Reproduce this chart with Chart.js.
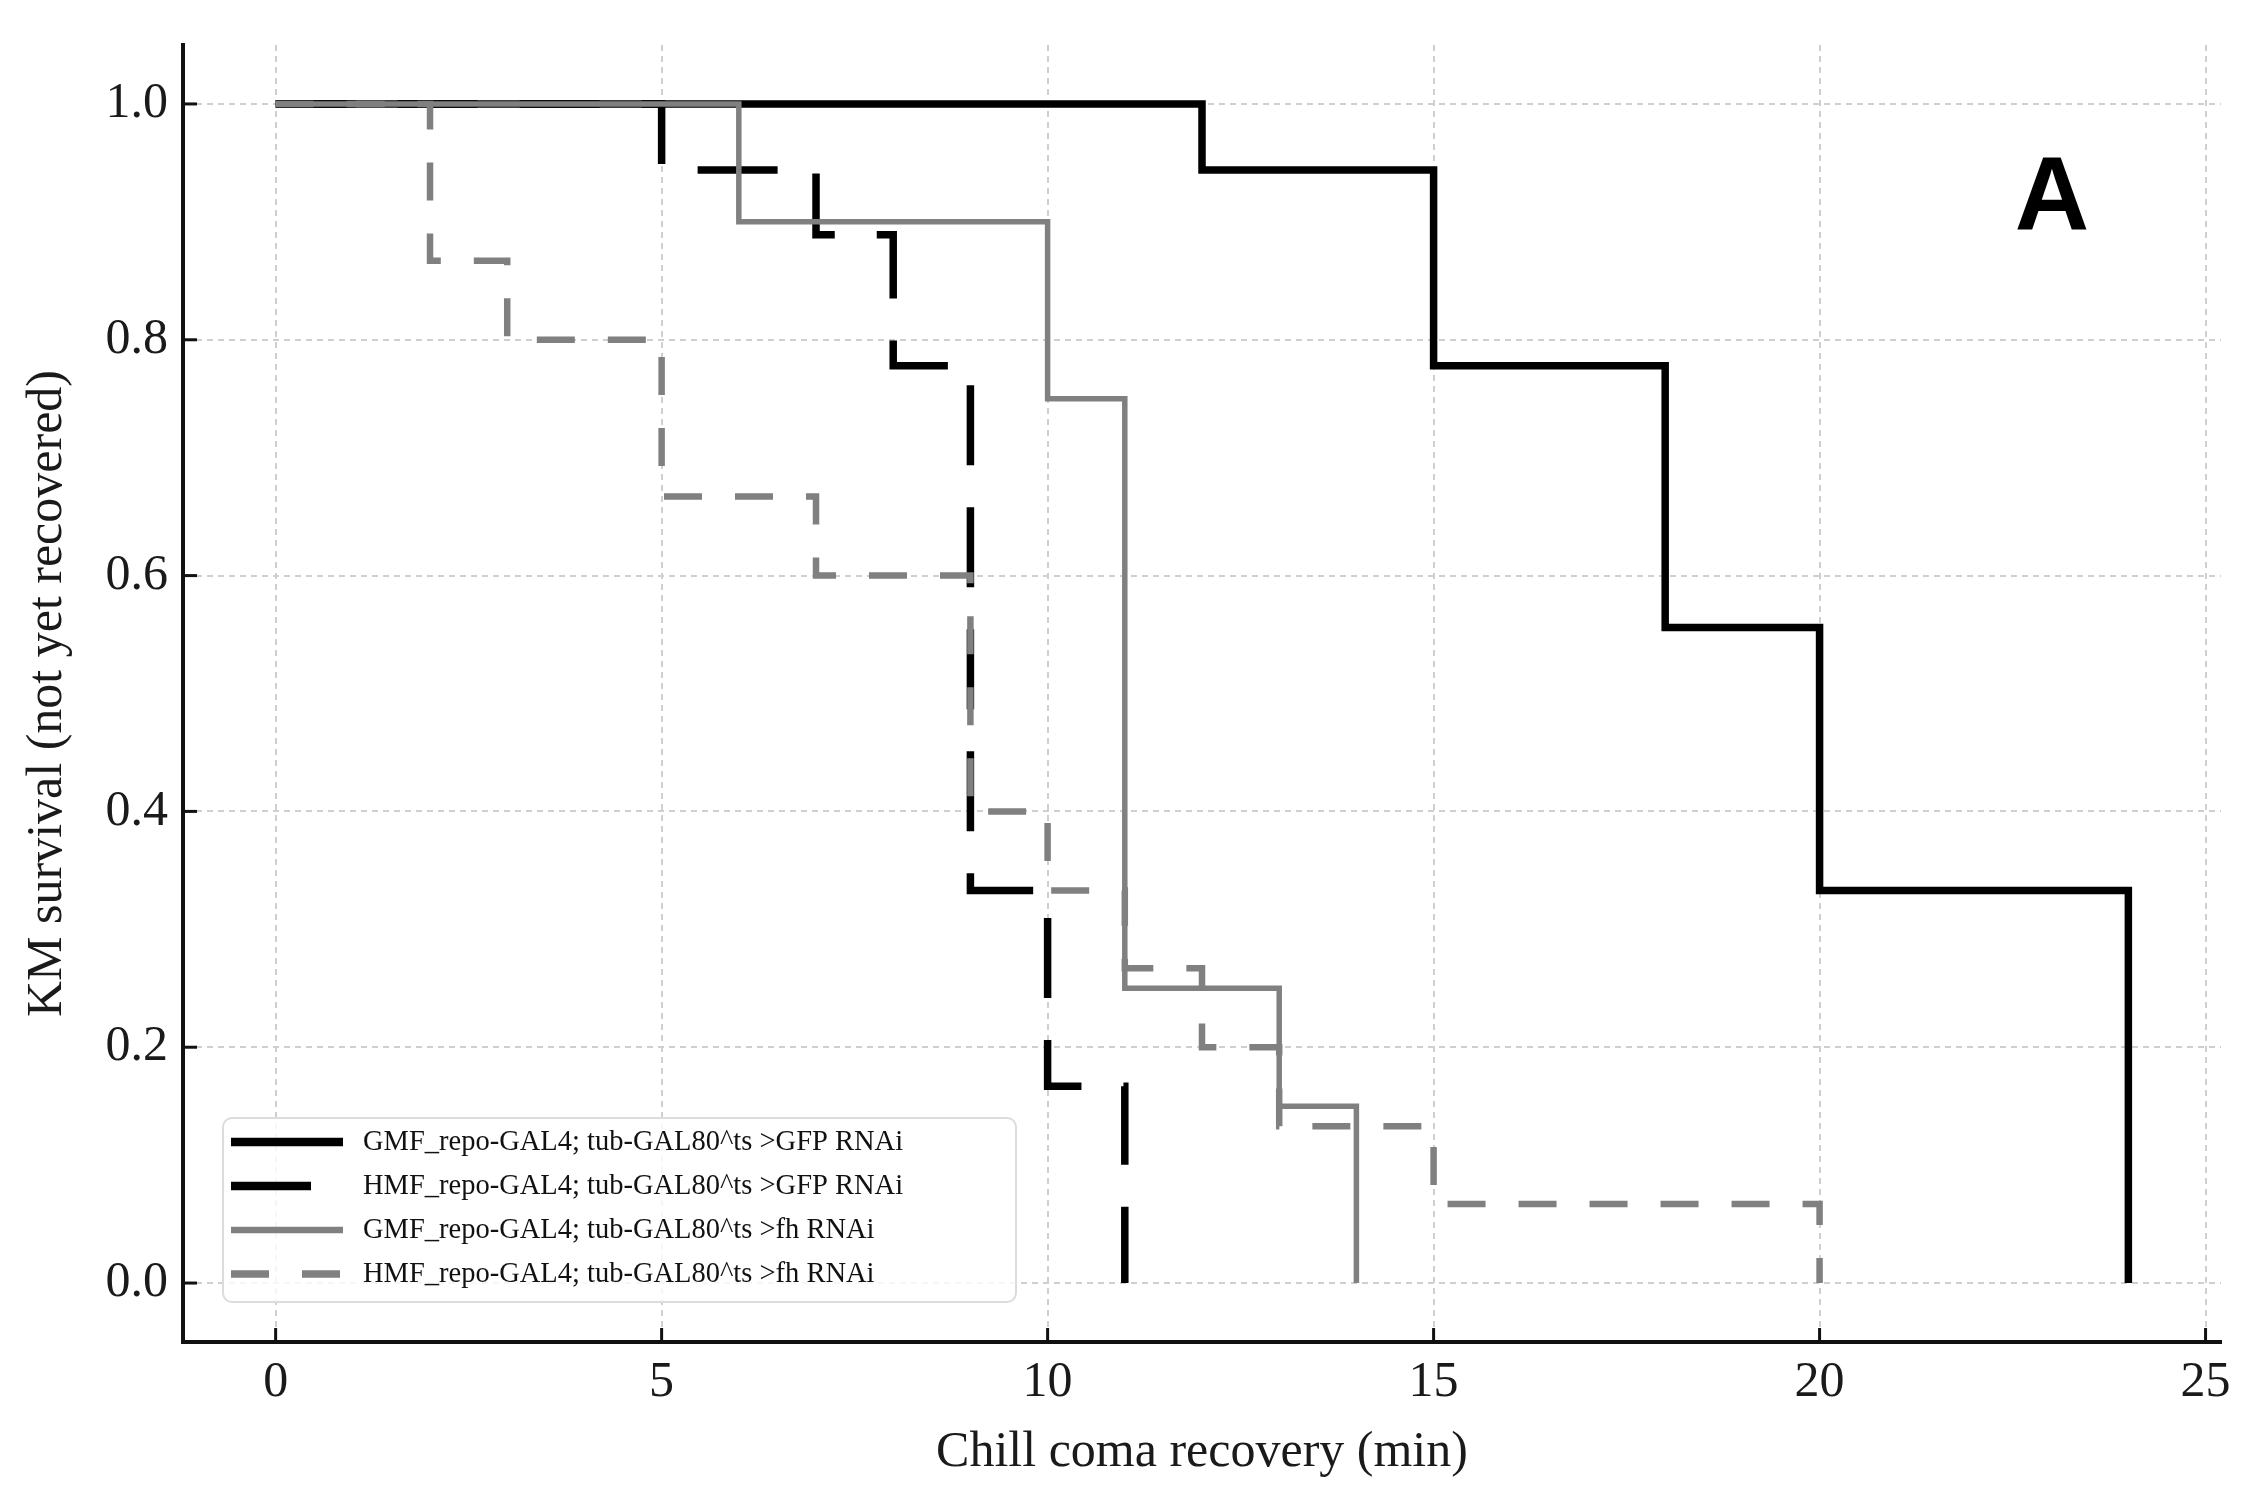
<!DOCTYPE html>
<html>
<head>
<meta charset="utf-8">
<script src="https://cdn.jsdelivr.net/npm/chart.js@4.4.1/dist/chart.umd.min.js"></script>
<style>
  html, body { margin: 0; padding: 0; background: #fff; }
  #wrap { width: 2255px; height: 1501px; }
</style>
</head>
<body>
<div id="wrap"><canvas id="kmChart" width="2255" height="1501"></canvas></div>
<script>
// recovery times (min) and KM survival, one pair of arrays per genotype
const gmfGfpTime = [0, 12, 15, 18, 20, 24];
const gmfGfpSurv = [1.0, 0.944, 0.778, 0.556, 0.333, 0.0];

const hmfGfpTime = [0, 5, 7, 8, 9, 10, 11];
const hmfGfpSurv = [1.0, 0.944, 0.889, 0.778, 0.333, 0.167, 0.0];

const gmfFhTime = [0, 6, 10, 11, 13, 14];
const gmfFhSurv = [1.0, 0.9, 0.75, 0.25, 0.15, 0.0];

const hmfFhTime = [0, 2, 3, 5, 7, 9, 10, 11, 12, 13, 15, 20];
const hmfFhSurv = [1.0, 0.867, 0.8, 0.667, 0.6, 0.4, 0.333, 0.267, 0.2, 0.133, 0.067, 0.0];

const seriesLabels = [
    "GMF_repo-GAL4; tub-GAL80^ts >GFP RNAi",
    "HMF_repo-GAL4; tub-GAL80^ts >GFP RNAi",
    "GMF_repo-GAL4; tub-GAL80^ts >fh RNAi",
    "HMF_repo-GAL4; tub-GAL80^ts >fh RNAi"
];

const xTicks = [0, 5, 10, 15, 20, 25];
const yTicks = [0.0, 0.2, 0.4, 0.6, 0.8, 1.0];

const serif = "'Liberation Serif', 'Times New Roman', serif";

const toPoints = (t, s) => t.map((x, i) => ({ x: x, y: s[i] }));

function kmSet(label, t, s, color, width, dash, order) {
    return {
        label: label,
        data: toPoints(t, s),
        borderColor: color,
        borderWidth: width,
        borderDash: dash,
        borderCapStyle: "butt",
        borderJoinStyle: "miter",
        stepped: "before",
        pointRadius: 0,
        fill: false,
        order: order
    };
}

// matplotlib-style ticks pointing into the axes
const innerTicks = {
    id: "innerTicks",
    afterDatasetsDraw(chart) {
        const { ctx, chartArea, scales } = chart;
        ctx.save();
        ctx.strokeStyle = "#111";
        ctx.lineWidth = 3;
        scales.x.ticks.forEach(t => {
            const px = scales.x.getPixelForValue(t.value);
            ctx.beginPath();
            ctx.moveTo(px, chartArea.bottom);
            ctx.lineTo(px, chartArea.bottom - 14);
            ctx.stroke();
        });
        scales.y.ticks.forEach(t => {
            const py = scales.y.getPixelForValue(t.value);
            ctx.beginPath();
            ctx.moveTo(chartArea.left, py);
            ctx.lineTo(chartArea.left + 14, py);
            ctx.stroke();
        });
        ctx.restore();
    }
};

// framed legend in the lower left corner + panel letter
const boxLegend = {
    id: "boxLegend",
    afterDraw(chart) {
        const { ctx, chartArea } = chart;
        const left = chartArea.left + 40, bottom = chartArea.bottom - 40;
        const w = 793, h = 184, r = 9;
        const top = bottom - h;
        ctx.save();
        ctx.beginPath();
        ctx.roundRect(left, top, w, h, r);
        ctx.fillStyle = "rgba(255,255,255,0.8)";
        ctx.fill();
        ctx.strokeStyle = "#dcdcdc";
        ctx.lineWidth = 2;
        ctx.stroke();

        ctx.font = "30px " + serif;
        ctx.textBaseline = "middle";
        ctx.fillStyle = "#111";
        chart.data.datasets.forEach((ds, i) => {
            const y = top + 24 + i * 44;
            ctx.beginPath();
            ctx.strokeStyle = ds.borderColor;
            ctx.lineWidth = ds.borderWidth + 1;
            ctx.lineCap = "butt";
            ctx.setLineDash(ds.borderDash);
            ctx.moveTo(left + 8, y);
            ctx.lineTo(left + 120, y);
            ctx.stroke();
            ctx.setLineDash([]);
            // the source text is slightly condensed
            ctx.save();
            ctx.translate(left + 140, y);
            ctx.scale(0.95, 1);
            ctx.fillText(ds.label, 0, 0);
            ctx.restore();
        });

        ctx.font = "bold 103px 'Liberation Sans', Arial, sans-serif";
        ctx.textAlign = "center";
        ctx.textBaseline = "alphabetic";
        ctx.fillStyle = "#000";
        ctx.fillText("A", chartArea.right - 169, chartArea.top + 184);
        ctx.restore();
    }
};

new Chart(document.getElementById("kmChart"), {
    type: "line",
    data: {
        datasets: [
            kmSet(seriesLabels[0], gmfGfpTime, gmfGfpSurv, "#000000", 7.5, [], 4),
            kmSet(seriesLabels[1], hmfGfpTime, hmfGfpSurv, "#000000", 7.5, [80, 42], 3),
            kmSet(seriesLabels[2], gmfFhTime, gmfFhSurv, "#808080", 5.5, [], 2),
            kmSet(seriesLabels[3], hmfFhTime, hmfFhSurv, "#808080", 6.5, [38, 33], 1)
        ]
    },
    options: {
        responsive: false,
        devicePixelRatio: 1,
        animation: false,
        layout: { padding: { top: 45, right: 34, left: 0, bottom: 0 } },
        plugins: {
            legend: { display: false },
            tooltip: { enabled: false }
        },
        scales: {
            x: {
                type: "linear",
                min: -1.2,
                max: 25.2,
                afterBuildTicks: s => { s.ticks = xTicks.map(v => ({ value: v })); },
                afterFit: s => { s.height = 159; },
                grid: { color: "#cfcfcf", lineWidth: 2, drawTicks: false },
                border: { display: true, color: "#111", width: 4, dash: [6, 5] },
                ticks: {
                    color: "#1a1a1a",
                    font: { family: serif, size: 50 },
                    padding: 11,
                    maxRotation: 0,
                    autoSkip: false,
                    callback: v => String(v)
                },
                title: {
                    display: true,
                    text: "Chill coma recovery (min)",
                    color: "#1a1a1a",
                    font: { family: serif, size: 50 },
                    padding: { top: 0, bottom: 18 }
                }
            },
            y: {
                type: "linear",
                min: -0.05,
                max: 1.05,
                afterBuildTicks: s => { s.ticks = yTicks.map(v => ({ value: v })); },
                afterFit: s => { s.width = 183; },
                grid: { color: "#cfcfcf", lineWidth: 2, drawTicks: false },
                border: { display: true, color: "#111", width: 4, dash: [6, 5] },
                ticks: {
                    color: "#1a1a1a",
                    font: { family: serif, size: 50 },
                    padding: 15,
                    callback: v => v.toFixed(1)
                },
                title: {
                    display: true,
                    text: "KM survival (not yet recovered)",
                    color: "#1a1a1a",
                    font: { family: serif, size: 50 },
                    padding: { top: 18, bottom: 0 }
                }
            }
        }
    },
    plugins: [innerTicks, boxLegend]
});
</script>
</body>
</html>
